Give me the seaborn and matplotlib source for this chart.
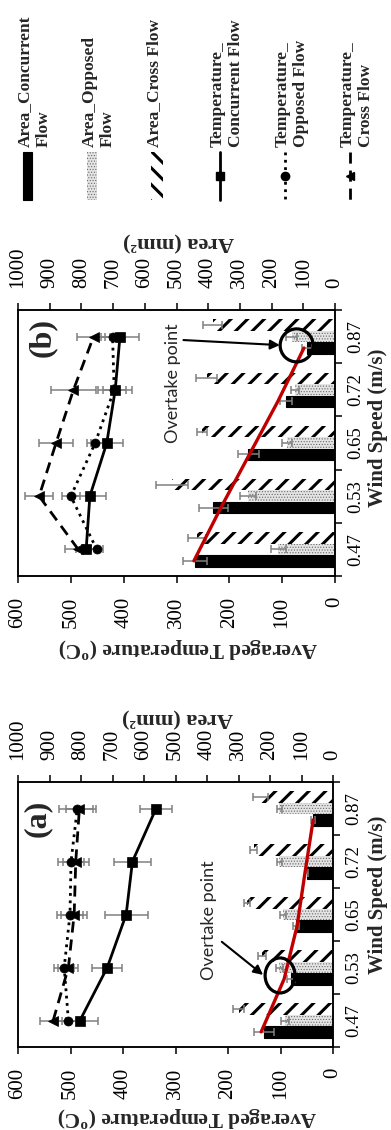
"""Flame area and averaged temperature vs wind speed, two panels, rotated layout."""

import matplotlib

matplotlib.use("Agg")
import matplotlib.pyplot as plt
import numpy as np
import pandas as pd
import seaborn as sns
from matplotlib.patches import Ellipse, Rectangle

SPEEDS = ["0.47", "0.53", "0.65", "0.72", "0.87"]
FLOWS = ["Concurrent", "Opposed", "Cross"]

# panel (a): flame area (mm^2) with error
a_area_concurrent = [219, 133, 117, 83, 64]
a_area_opposed = [152, 170, 158, 171, 170]
a_area_cross = [300, 225, 272, 252, 230]
a_area_concurrent_err = [32, 13, 10, 5, 6]
a_area_opposed_err = [13, 12, 10, 8, 8]
a_area_cross_err = [16, 12, 10, 12, 25]
# panel (a): averaged temperature (deg C) with error
a_temp_concurrent = [482, 430, 394, 382, 337]
a_temp_opposed = [504, 512, 501, 499, 487]
a_temp_cross = [533, 504, 493, 490, 483]
a_temp_concurrent_err = [35, 29, 41, 35, 30]
a_temp_opposed_err = [19, 19, 25, 25, 35]
a_temp_cross_err = [25, 19, 25, 25, 25]
# panel (a): red trend line over the concurrent bars
a_trend = [228, 155, 114, 89, 63]

# panel (b)
b_area_concurrent = [442, 384, 273, 155, 89]
b_area_opposed = [179, 274, 152, 126, 137]
b_area_cross = [436, 515, 420, 405, 385]
b_area_concurrent_err = [39, 46, 32, 18, 16]
b_area_opposed_err = [24, 26, 16, 13, 16]
b_area_cross_err = [28, 50, 16, 32, 30]
b_temp_concurrent = [471, 464, 432, 416, 407]
b_temp_opposed = [451, 500, 454, 418, 421]
b_temp_cross = [486, 560, 528, 495, 457]
b_temp_concurrent_err = [20, 31, 30, 32, 36]
b_temp_opposed_err = [12, 17, 15, 22, 15]
b_temp_cross_err = [25, 27, 32, 43, 32]
b_trend = [445, 360, 270, 180, 98]

LEGEND_LABELS = [
    "Area_Concurrent\nFlow",
    "Area_Opposed\nFlow",
    "Area_Cross Flow",
    "Temperature_\nConcurrent Flow",
    "Temperature_\nOpposed Flow",
    "Temperature_\nCross Flow",
]

ERR_GREY = "#808080"
RED = "#c00000"
SERIF = "Liberation Serif"

sns.set_theme(style="ticks")
plt.rcParams["font.family"] = [SERIF, "DejaVu Serif"]
plt.rcParams["mathtext.fontset"] = "custom"
plt.rcParams["mathtext.rm"] = SERIF
plt.rcParams["mathtext.bf"] = SERIF + ":bold"
plt.rcParams["hatch.linewidth"] = 2.0
plt.rcParams["axes.linewidth"] = 1.1
plt.rcParams["axes.edgecolor"] = "black"

BAR_STYLES = [
    dict(facecolor="black", edgecolor="black", linewidth=0.8, hatch=None),
    dict(facecolor="#e4e4e4", edgecolor="#6a6a6a", linewidth=0, hatch="......"),
    dict(facecolor="white", edgecolor="black", linewidth=0, hatch="//"),
]
HATCH_WIDTHS = [None, 0.5, 2.2]
LINE_STYLES = [
    dict(linestyle="-", linewidth=2.0, marker="s", markersize=7),
    dict(linestyle=":", linewidth=2.0, marker="o", markersize=6.5),
    dict(linestyle=(0, (4, 2.5)), linewidth=2.0, marker="<", markersize=7),
]


def _style_patch(patch, style, hatch_width):
    patch.set(**style)
    if hatch_width is not None and hasattr(patch, "set_hatch_linewidth"):
        patch.set_hatch_linewidth(hatch_width)


def draw_panel(ax, areas, area_errs, temps, temp_errs, trend):
    frame = pd.DataFrame({
        "speed": SPEEDS * len(FLOWS),
        "flow": np.repeat(FLOWS, len(SPEEDS)),
        "area": np.concatenate(areas),
    })
    sns.barplot(data=frame, x="area", y="speed", hue="flow", order=SPEEDS,
                hue_order=FLOWS, orient="y", width=0.645, errorbar=None,
                palette=["black", "white", "white"], saturation=1,
                legend=False, ax=ax)

    bar_centres = []
    for container, style, hw, values, errs in zip(
            ax.containers, BAR_STYLES, HATCH_WIDTHS, areas, area_errs):
        ys = [0.0] * len(SPEEDS)
        for patch in container:
            _style_patch(patch, style, hw)
            yc = patch.get_y() + patch.get_height() / 2
            ys[int(round(yc))] = yc
        ax.errorbar(values, ys, xerr=errs, fmt="none", ecolor=ERR_GREY,
                    elinewidth=1.1, capsize=3, capthick=1.1, zorder=3)
        bar_centres.append(ys)
    ax.plot(trend, bar_centres[0], color=RED, linewidth=2.4, zorder=4)

    ax_t = ax.twiny()
    idx = np.arange(len(SPEEDS))
    for values, errs, style in zip(temps, temp_errs, LINE_STYLES):
        ax_t.errorbar(values, idx, xerr=errs, fmt="none", ecolor=ERR_GREY,
                      elinewidth=1.1, capsize=3, capthick=1.1, zorder=2)
        sns.lineplot(x=values, y=idx, orient="y", sort=False, estimator=None,
                     color="black", markeredgecolor="black",
                     markeredgewidth=0.5, ax=ax_t, zorder=3, **style)

    ax.set_xlim(1000, 0)
    ax_t.set_xlim(600, 0)
    ax.set_ylim(-0.5, 4.5)

    # area on top, temperature at the bottom, wind speed on the right
    ax.xaxis.tick_top()
    ax.xaxis.set_label_position("top")
    ax.set_xticks(np.arange(0, 1001, 100))
    ax.tick_params(axis="x", which="major", top=True, bottom=False,
                   labeltop=True, labelbottom=False, direction="out",
                   length=5, width=1.1, labelrotation=90, labelsize=15,
                   pad=11, colors="black")
    ax_t.xaxis.tick_bottom()
    ax_t.xaxis.set_label_position("bottom")
    ax_t.set_xticks(np.arange(0, 601, 100))
    ax_t.tick_params(axis="x", which="major", top=False, bottom=True,
                     labeltop=False, labelbottom=True, direction="out",
                     length=5, width=1.1, labelrotation=90, labelsize=15,
                     pad=10, colors="black")

    ax.yaxis.tick_right()
    ax.yaxis.set_label_position("right")
    ax.set_yticks(range(len(SPEEDS)), labels=SPEEDS)
    ax.set_yticks(np.arange(-0.5, len(SPEEDS)), minor=True)
    ax.tick_params(axis="y", which="major", length=0, labelrotation=90,
                   labelsize=13.5, pad=9, colors="black")
    ax.tick_params(axis="y", which="minor", left=False, right=True,
                   direction="out", length=5, width=1.1, colors="black")
    for lab in ax.get_yticklabels():
        lab.set_verticalalignment("center")

    ax.set_xlabel("Area (mm²)", rotation=180, fontsize=16, fontweight="bold")
    ax_t.set_xlabel("Averaged Temperature ($^{\\mathbf{o}}$C)", rotation=180,
                    fontsize=15.5, fontweight="bold")
    ax.set_ylabel("Wind Speed (m/s)", fontsize=15, fontweight="bold")
    for spine in ax.spines.values():
        spine.set_linewidth(1.1)
    return ax_t


def annotate_overtake(ax, text_xy, tail, head, circle_xy, circle_wh):
    ax.text(*text_xy, "Overtake point", transform=ax.transAxes, rotation=90,
            ha="center", va="center", family=["Lato", "DejaVu Sans"],
            fontsize=13, zorder=6)
    ax.annotate("", xy=head, xytext=tail, xycoords="axes fraction",
                textcoords="axes fraction", zorder=6,
                arrowprops=dict(arrowstyle="-|>", color="black", lw=1.5,
                                mutation_scale=14, shrinkA=0, shrinkB=0))
    ax.add_patch(Ellipse(circle_xy, *circle_wh, transform=ax.transAxes,
                         fill=False, edgecolor="black", linewidth=2.3,
                         zorder=6))


W, H = 391, 1130
fig = plt.figure(figsize=(W / 100, H / 100), dpi=100)

ax_b = fig.add_axes([18 / W, 1 - 576 / H, 317 / W, 266 / H])
ax_a = fig.add_axes([18 / W, 1 - 1047 / H, 315 / W, 265 / H])

tb = draw_panel(
    ax_b,
    [b_area_concurrent, b_area_opposed, b_area_cross],
    [b_area_concurrent_err, b_area_opposed_err, b_area_cross_err],
    [b_temp_concurrent, b_temp_opposed, b_temp_cross],
    [b_temp_concurrent_err, b_temp_opposed_err, b_temp_cross_err],
    b_trend,
)
ta = draw_panel(
    ax_a,
    [a_area_concurrent, a_area_opposed, a_area_cross],
    [a_area_concurrent_err, a_area_opposed_err, a_area_cross_err],
    [a_temp_concurrent, a_temp_opposed, a_temp_cross],
    [a_temp_concurrent_err, a_temp_opposed_err, a_temp_cross_err],
    a_trend,
)

ax_b.xaxis.set_label_coords(0.505, 1.24)
tb.xaxis.set_label_coords(0.535, -0.222)
ax_b.yaxis.set_label_coords(1.103, 0.556)
ax_a.xaxis.set_label_coords(0.505, 1.223)
ta.xaxis.set_label_coords(0.535, -0.214)
ax_a.yaxis.set_label_coords(1.11, 0.574)

ax_a.text(0.06, 0.864, "(a)", transform=ax_a.transAxes, rotation=90,
          ha="center", va="center", fontsize=23, fontweight="bold")
ax_b.text(0.076, 0.895, "(b)", transform=ax_b.transAxes, rotation=90,
          ha="center", va="center", fontsize=23, fontweight="bold")

annotate_overtake(ax_a, (0.606, 0.479), (0.647, 0.397), (0.778, 0.272),
                  (0.832, 0.27), (0.095, 0.132))
annotate_overtake(ax_b, (0.49, 0.726), (0.522, 0.887), (0.826, 0.868),
                  (0.879, 0.867), (0.104, 0.124))

# legend drawn by hand, rotated with the rest of the figure
leg = fig.add_axes([0, 1 - 210 / H, 1, 210 / H])
leg.set_xlim(0, W)
leg.set_ylim(210, 0)
leg.axis("off")
handle_x = [27.5, 92, 156.5, 220, 285, 350]
bar_w = [9.5, 10, 12]
legend_bar_styles = [
    BAR_STYLES[0],
    BAR_STYLES[1],
    dict(BAR_STYLES[2], hatch="\\\\"),
]
for cx, w, style, hw in zip(handle_x[:3], bar_w, legend_bar_styles, HATCH_WIDTHS):
    rect = Rectangle((cx - w / 2, 152), w, 48)
    _style_patch(rect, style, hw)
    leg.add_patch(rect)
for cx, style in zip(handle_x[3:], LINE_STYLES):
    leg.plot([cx, cx, cx], [152, 176, 200], color="black", markevery=[1],
             markeredgecolor="black", **dict(style, markersize=6))
for cx, label in zip(handle_x, LEGEND_LABELS):
    leg.text(cx - 10.5, 147, label, rotation=90, ha="left", va="bottom",
             multialignment="left", fontsize=12.5, fontweight="bold",
             linespacing=1.2)

fig.savefig("out.png", dpi=100)
